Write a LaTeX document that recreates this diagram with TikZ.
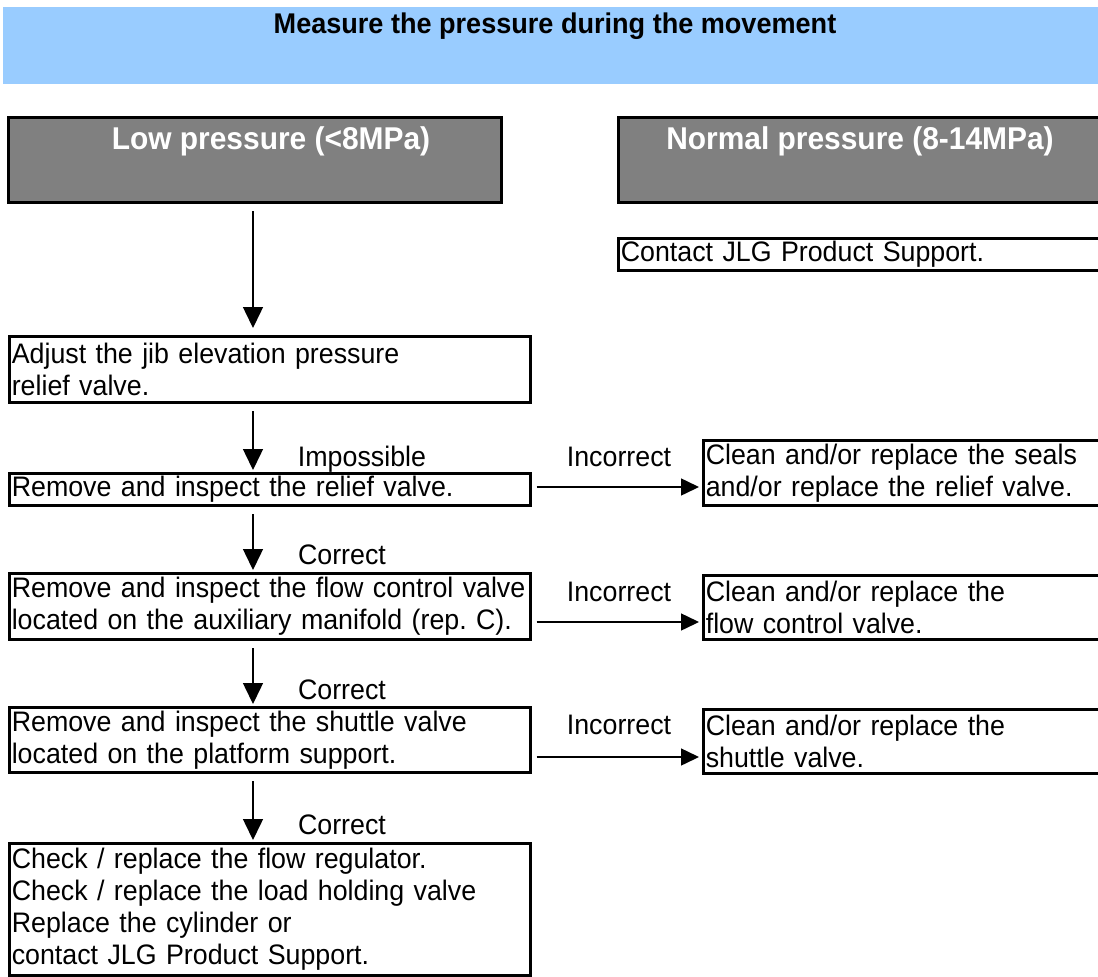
\documentclass[tikz,border=0pt]{standalone}
\usepackage{fontspec}
\setmainfont{Liberation Sans}[FakeStretch=0.95]
\usetikzlibrary{arrows.meta}
\definecolor{bannerblue}{HTML}{99CCFF}
\definecolor{headgray}{HTML}{808080}
\frenchspacing
% fonts: slightly tall Arial-like faces with fixed word spaces
\newcommand\bodyfont{\fontsize{28.2}{32}\selectfont\spaceskip 7.3pt plus 2pt minus 1pt\relax}
\newcommand\headfont{\fontsize{31.5}{36}\selectfont\bfseries\spaceskip 8.3pt\relax}
\newcommand\titlefont{\fontsize{28.5}{32}\selectfont\bfseries\spaceskip 7.5pt\relax}

\begin{document}
\begin{tikzpicture}[x=1pt,y=-1pt,
  body/.style={font=\bodyfont},
  stepbox/.style={draw=black, line width=2.6pt, fill=white, anchor=north west,
    align=left, inner xsep=2.5pt, inner ysep=0pt, body},
  leftbox/.style={stepbox, text width=516pt},
  rightbox/.style={stepbox, text width=420pt},
  headbox/.style={draw=black, line width=2.8pt, fill=headgray, anchor=north west,
    inner sep=0pt, minimum height=85.2pt},
  headtext/.style={text=white, anchor=base, inner sep=0pt, font=\headfont},
  lbl/.style={body, anchor=base, inner sep=0pt},
  arr/.style={line width=1.5pt, -{Triangle[length=21pt,width=20pt]},
    shorten <=7pt, shorten >=2pt},
  harr/.style={line width=1.5pt, -{Triangle[length=18pt,width=17pt]},
    shorten <=5pt, shorten >=3pt},
]
\useasboundingbox (0,0) rectangle (1098,977);
\clip (0,0) rectangle (1098,977);

% title banner
\node[fill=bannerblue, anchor=north west, inner sep=0pt,
  minimum width=1110pt, minimum height=77pt] (banner) at (3,7) {};
\node[anchor=base, inner sep=0pt, font=\titlefont]
  (title) at (555,33) {Measure the pressure during the movement};

% pressure ranges
\node[headbox, minimum width=493pt] (low) at (7,116) {};
\node[headtext] (lowtext) at (271,149) {Low pressure (<8MPa)};
\node[headbox, minimum width=520pt] (normal) at (617,116) {};
\node[headtext] (normaltext) at (860,149) {Normal pressure (8-14MPa)};

\node[stepbox, text width=500pt, minimum height=32.4pt] (contact) at (617,237)
  {Contact JLG Product Support.};

% main sequence of checks (each line kept whole)
\node[leftbox, minimum height=66.4pt] (adj) at (8,335)
  {\mbox{Adjust the jib elevation pressure}\\relief valve.};
\node[leftbox, minimum height=32.4pt] (rel) at (8,472)
  {\mbox{Remove and inspect the relief valve.}};
\node[leftbox, minimum height=66.4pt] (flow) at (8,572)
  {\mbox{Remove and inspect the flow control valve}\\\mbox{located on the auxiliary manifold (rep. C).}};
\node[leftbox, minimum height=65.4pt] (shut) at (8,706)
  {\mbox{Remove and inspect the shuttle valve}\\\mbox{located on the platform support.}};
\node[leftbox, minimum height=132.4pt] (final) at (8,842)
  {\mbox{Check / replace the flow regulator.}\\\mbox{Check / replace the load holding valve}\\\mbox{Replace the cylinder or}\\\mbox{contact JLG Product Support.}};

% remedies
\node[rightbox, minimum height=65.4pt] (fixrel) at (702,439)
  {\mbox{Clean and/or replace the seals}\\\mbox{and/or replace the relief valve.}};
\node[rightbox, minimum height=64.4pt] (fixflow) at (702,574)
  {\mbox{Clean and/or replace the}\\\mbox{flow control valve.}};
\node[rightbox, minimum height=64.4pt] (fixshut) at (702,708)
  {\mbox{Clean and/or replace the}\\\mbox{shuttle valve.}};

% branch labels
\node[lbl] (impossible) at (362,466) {Impossible};
\node[lbl] (ok1) at (342,564) {Correct};
\node[lbl] (ok2) at (342,699) {Correct};
\node[lbl] (ok3) at (342,834) {Correct};
\node[lbl] (bad1) at (619,466) {Incorrect};
\node[lbl] (bad2) at (619,601) {Incorrect};
\node[lbl] (bad3) at (619,734) {Incorrect};

% connectors
\coordinate (col) at (253,0);
\coordinate (row1) at (0,487);
\coordinate (row2) at (0,622);
\coordinate (row3) at (0,757);
\draw[arr, shorten >=7pt] (low.south -| col) -- (adj.north -| col);
\draw[arr] (adj.south -| col) -- (rel.north -| col);
\draw[arr] (rel.south -| col) -- (flow.north -| col);
\draw[arr] (flow.south -| col) -- (shut.north -| col);
\draw[arr] (shut.south -| col) -- (final.north -| col);
\draw[harr] (rel.east |- row1) -- (fixrel.west |- row1);
\draw[harr] (flow.east |- row2) -- (fixflow.west |- row2);
\draw[harr] (shut.east |- row3) -- (fixshut.west |- row3);
\end{tikzpicture}
\end{document}
